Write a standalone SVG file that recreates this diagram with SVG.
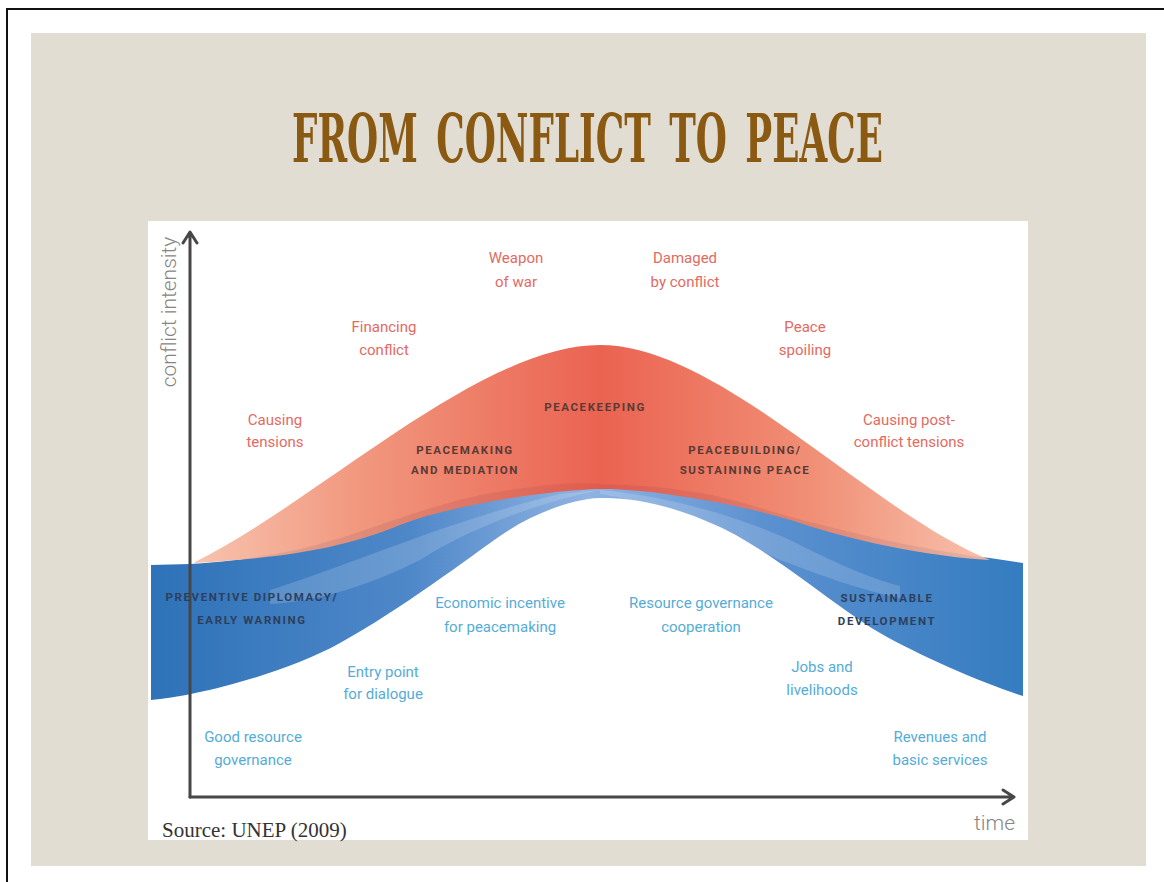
<svg xmlns="http://www.w3.org/2000/svg" width="1164" height="882" viewBox="0 0 1164 882">
  <defs>
    <linearGradient id="redGrad" gradientUnits="userSpaceOnUse" x1="195" y1="0" x2="990" y2="0">
      <stop offset="0" stop-color="#f7bda6"/>
      <stop offset="0.2" stop-color="#f08e72"/>
      <stop offset="0.51" stop-color="#e8523e"/>
      <stop offset="0.78" stop-color="#ef8468"/>
      <stop offset="1" stop-color="#f7bba4"/>
    </linearGradient>
    <linearGradient id="blueGrad" gradientUnits="userSpaceOnUse" x1="151" y1="0" x2="1023" y2="0">
      <stop offset="0" stop-color="#2e72b8"/>
      <stop offset="0.3" stop-color="#4f88c9"/>
      <stop offset="0.5" stop-color="#8fb3e2"/>
      <stop offset="0.7" stop-color="#5c91d0"/>
      <stop offset="1" stop-color="#347cc0"/>
    </linearGradient>
    <style>
      .title { font-family: "DejaVu Serif Condensed", "DejaVu Serif", serif; font-weight: bold; font-size: 67px; fill: #8b5a12; word-spacing: 10px; }
      .lbl { font-family: Roboto, "Liberation Sans", sans-serif; font-size: 15px; text-anchor: middle; }
      .red { fill: #e36a62; }
      .blue { fill: #55acd6; }
      .band { font-family: Roboto, "Liberation Sans", sans-serif; font-size: 11.5px; font-weight: bold; letter-spacing: 1.6px; text-anchor: middle; }
      .onred { fill: #5a3a34; }
      .onblue { fill: #2d3f5c; }
      .axis { fill: none; stroke: #474747; stroke-width: 3; stroke-linecap: round; stroke-linejoin: round; }
      .axislbl { font-family: Roboto, "Liberation Sans", sans-serif; font-weight: 300; font-size: 21px; fill: #858585; }
    </style>
  </defs>

  <!-- page frame -->
  <rect x="0" y="0" width="1164" height="882" fill="#ffffff"/>
  <path d="M7,882 V9 H1164" fill="none" stroke="#111" stroke-width="2"/>
  <rect x="31" y="33" width="1115" height="833" fill="#e2ddd2"/>

  <!-- title -->
  <text id="title" class="title" x="292" y="162" textLength="591" lengthAdjust="spacingAndGlyphs">FROM CONFLICT TO PEACE</text>

  <!-- chart panel -->
  <rect x="148" y="221" width="880" height="619" fill="#ffffff"/>

  <!-- bands -->
  <g id="bands">
    <path id="blue-band" fill="url(#blueGrad)" d="M151,565 L190,564 C260,560 310,548 350,535 S450,498 510,490 S570,483 600,484 S660,486 700,493 S770,512 810,522 S920,550 990,558 L1023,563 L1023,696 C985,684 920,656 880,633 S770,550 720,527 S630,497 600,498 S530,515 500,536 S400,610 340,643 S190,697 151,700 Z"/>
    <!-- lighter overlapping ribbons inside the blue band -->
    <path fill="#ffffff" fill-opacity="0.16" d="M270,590 C350,565 450,520 560,494 L600,490 C540,502 470,528 420,560 C360,590 310,602 270,604 Z"/>
    <path fill="#ffffff" fill-opacity="0.16" d="M600,490 C660,495 740,515 800,545 C840,565 870,578 900,586 L900,598 C860,590 820,575 780,560 C720,532 660,502 600,494 Z"/>
    <path id="red-band" fill="url(#redGrad)" fill-opacity="0.9" d="M195,562 C320,500 480,345 600,345 C720,345 870,512 990,560 C930,557 850,540 800,523 S650,488 600,489 S450,505 400,525 S300,557 195,563 Z"/>
  </g>

  <!-- axes -->
  <g id="axes">
    <path class="axis" d="M190,797 V233 M183,243 L190,232 L197,243"/>
    <path class="axis" d="M190,797 H1013 M1003,790 L1014,797 L1003,804"/>
    <text class="axislbl" transform="translate(176,312) rotate(-90)" text-anchor="middle">conflict intensity</text>
    <text class="axislbl" x="1015" y="830" text-anchor="end">time</text>
  </g>

  <!-- band labels -->
  <g id="stage-labels">
    <text class="band onred" x="595" y="411">PEACEKEEPING</text>
    <text class="band onred" x="465" y="454">PEACEMAKING</text>
    <text class="band onred" x="465" y="474">AND MEDIATION</text>
    <text class="band onred" x="745" y="454">PEACEBUILDING/</text>
    <text class="band onred" x="745" y="474">SUSTAINING PEACE</text>
    <text class="band onblue" x="252" y="601">PREVENTIVE DIPLOMACY/</text>
    <text class="band onblue" x="252" y="624">EARLY WARNING</text>
    <text class="band onblue" x="887" y="602" text-anchor="start">SUSTAINABLE</text>
    <text class="band onblue" x="887" y="625" text-anchor="start">DEVELOPMENT</text>
  </g>

  <!-- negative roles of resources -->
  <g id="conflict-roles">
    <g id="weapon"><text class="lbl red" x="516" y="263">Weapon</text><text class="lbl red" x="516" y="287">of war</text></g>
    <g id="damaged"><text class="lbl red" x="685" y="263">Damaged</text><text class="lbl red" x="685" y="287">by conflict</text></g>
    <g id="financing"><text class="lbl red" x="384" y="332">Financing</text><text class="lbl red" x="384" y="355">conflict</text></g>
    <g id="spoiling"><text class="lbl red" x="805" y="332">Peace</text><text class="lbl red" x="805" y="355">spoiling</text></g>
    <g id="tensions"><text class="lbl red" x="275" y="425">Causing</text><text class="lbl red" x="275" y="447">tensions</text></g>
    <g id="post-tensions"><text class="lbl red" x="909" y="425">Causing post-</text><text class="lbl red" x="909" y="447">conflict tensions</text></g>
  </g>

  <!-- positive roles of resources -->
  <g id="peace-roles">
    <g id="incentive"><text class="lbl blue" x="500" y="608">Economic incentive</text><text class="lbl blue" x="500" y="632">for peacemaking</text></g>
    <g id="cooperation"><text class="lbl blue" x="701" y="608">Resource governance</text><text class="lbl blue" x="701" y="632">cooperation</text></g>
    <g id="entry"><text class="lbl blue" x="383" y="677">Entry point</text><text class="lbl blue" x="383" y="699">for dialogue</text></g>
    <g id="jobs"><text class="lbl blue" x="822" y="672">Jobs and</text><text class="lbl blue" x="822" y="695">livelihoods</text></g>
    <g id="governance"><text class="lbl blue" x="253" y="742">Good resource</text><text class="lbl blue" x="253" y="765">governance</text></g>
    <g id="revenues"><text class="lbl blue" x="940" y="742">Revenues and</text><text class="lbl blue" x="940" y="765">basic services</text></g>
  </g>

  <text id="source" x="162" y="837" font-family="'Liberation Serif', serif" font-size="21" fill="#333">Source: UNEP (2009)</text>
</svg>
